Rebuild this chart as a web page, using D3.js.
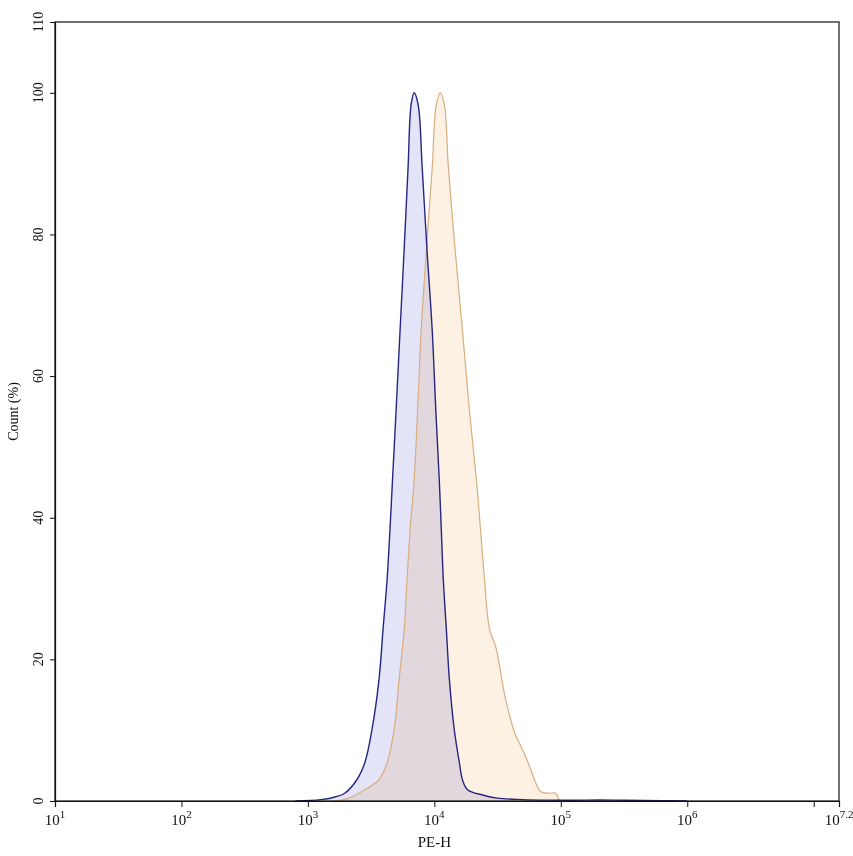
<!DOCTYPE html>
<html>
<head>
<meta charset="utf-8">
<script src="https://cdn.jsdelivr.net/npm/d3@7"></script>
<style>
  body { margin: 0; background: #fff; }
  text { font-family: "Liberation Serif", "DejaVu Serif", serif; fill: #111; }
</style>
</head>
<body>
<script>
// x values are log10(PE-H), y values are Count (%)
var blueLog = [2.90, 3.10, 3.20, 3.291, 3.387, 3.450, 3.506, 3.562, 3.594, 3.626, 3.649, 3.669, 3.697, 3.729, 3.760, 3.792, 3.816, 3.840, 3.872, 3.904, 3.943, 3.983, 4.012, 4.039, 4.055, 4.071, 4.095, 4.119, 4.158, 4.198, 4.222, 4.262, 4.381, 4.50, 4.70, 4.90, 5.10, 5.30, 5.50, 5.80, 6.00];
var blueCount = [0, 0.2, 0.5, 1.1, 3.0, 5.4, 10, 17.1, 24.2, 31.2, 38.3, 45.3, 55, 66.5, 77.5, 89.4, 98.3, 100, 98.3, 89.4, 77.5, 66.5, 55, 45.3, 38.3, 31.2, 24.2, 17.1, 10, 5.4, 3.0, 1.6, 0.85, 0.4, 0.2, 0.12, 0.1, 0.15, 0.1, 0.05, 0];

var orangeLog = [3.20, 3.307, 3.403, 3.562, 3.626, 3.681, 3.721, 3.761, 3.784, 3.808, 3.840, 3.867, 3.896, 3.936, 3.983, 4.015, 4.047, 4.079, 4.111, 4.166, 4.222, 4.278, 4.333, 4.365, 4.397, 4.437, 4.485, 4.516, 4.564, 4.636, 4.699, 4.755, 4.803, 4.842, 4.90, 4.962, 4.986, 5.05];
var orangeCount = [0, 0.3, 1.1, 3.0, 5.4, 10, 17.1, 24.2, 31.2, 38.3, 45.3, 55, 66.5, 77.5, 89.4, 98.3, 100, 98.3, 89.4, 77.5, 66.5, 55, 45.3, 38.3, 31.2, 24.2, 21.8, 19, 14.3, 9.6, 7.2, 4.8, 2.5, 1.3, 1.1, 1.1, 0.2, 0];

var xMajor = [1, 2, 3, 4, 5, 6, 7, 7.2];
var xLabels = ["1", "2", "3", "4", "5", "6", "", "7.2"];
var yMajor = [0, 20, 40, 60, 80, 100, 110];

var W = 853, H = 856;
var m = {left: 55, right: 14, top: 22, bottom: 55};

var svg = d3.select("body").append("svg").attr("width", W).attr("height", H);

var x = d3.scaleLinear().domain([1, 7.2]).range([m.left, W - m.right]);
var y = d3.scaleLinear().domain([0, 110]).range([H - m.bottom, m.top]);

function series(lg, ct) {
	return lg.map(function(d, i) { return {x: d, y: ct[i]}; });
}
var blue = series(blueLog, blueCount);
var orange = series(orangeLog, orangeCount);

var area = d3.area().curve(d3.curveCatmullRom.alpha(0.5))
	.x(function(d) { return x(d.x); })
	.y0(y(0))
	.y1(function(d) { return Math.min(y(0), y(d.y)); });
var line = d3.line().curve(d3.curveCatmullRom.alpha(0.5))
	.x(function(d) { return x(d.x); })
	.y(function(d) { return y(d.y); });

svg.append("path").datum(orange).attr("d", area)
	.attr("fill", "#fdf1e3");
svg.append("path").datum(blue).attr("d", area)
	.attr("fill", "#e4e4f9").style("mix-blend-mode", "multiply");

svg.append("path").datum(orange).attr("d", line)
	.attr("fill", "none").attr("stroke", "#d9ad7e").attr("stroke-width", 1.2);
svg.append("path").datum(blue).attr("d", line)
	.attr("fill", "none").attr("stroke", "#262680").attr("stroke-width", 1.4);

// frame
svg.append("rect")
	.attr("x", m.left).attr("y", m.top)
	.attr("width", W - m.left - m.right).attr("height", H - m.top - m.bottom)
	.attr("fill", "none").attr("stroke", "#111").attr("stroke-width", 1.2);

// x minor ticks (2..9 of each decade)
var xMinor = [];
for (var k = 1; k < 7.2; k++) {
	for (var j = 2; j <= 9; j++) {
		var v = k + Math.log10(j);
		if (v < 7.2) xMinor.push(v);
	}
}
var gx = svg.append("g").attr("transform", "translate(0," + y(0) + ")");
gx.call(d3.axisBottom(x).tickValues(xMinor).tickSize(3).tickFormat(""));
gx.call(d3.axisBottom(x).tickValues(xMajor).tickSize(6).tickFormat(""));
gx.selectAll(".domain").attr("stroke", "#111").attr("stroke-width", 1.2);
gx.selectAll(".tick line").attr("stroke", "#111");

xMajor.forEach(function(v, i) {
	if (!xLabels[i]) return;
	var t = svg.append("text")
		.attr("x", x(v)).attr("y", y(0) + 24)
		.attr("text-anchor", "middle")
		.style("font-size", "15px");
	t.append("tspan").text("10");
	t.append("tspan").attr("dy", -7).style("font-size", "11px").text(xLabels[i]);
});

// y axis
var yMinor = d3.range(4, 110, 4).filter(function(d) { return d % 20 != 0; });
var gy = svg.append("g").attr("transform", "translate(" + m.left + ",0)");
gy.call(d3.axisLeft(y).tickValues(yMinor).tickSize(3).tickFormat(""));
gy.call(d3.axisLeft(y).tickValues(yMajor).tickSize(5).tickFormat(""));
gy.selectAll(".domain").attr("stroke", "#111").attr("stroke-width", 1.2);
gy.selectAll(".tick line").attr("stroke", "#111");

yMajor.forEach(function(v) {
	svg.append("text")
		.attr("transform", "translate(43," + y(v) + ") rotate(-90)")
		.attr("text-anchor", "middle")
		.style("font-size", "14px")
		.text(v);
});

svg.append("text")
	.attr("transform", "translate(18," + ((m.top + H - m.bottom) / 2) + ") rotate(-90)")
	.attr("text-anchor", "middle")
	.style("font-size", "14px")
	.text("Count  (%)");

svg.append("text")
	.attr("x", x(4)).attr("y", 847)
	.attr("text-anchor", "middle")
	.style("font-size", "15px")
	.text("PE-H");
</script>
</body>
</html>
